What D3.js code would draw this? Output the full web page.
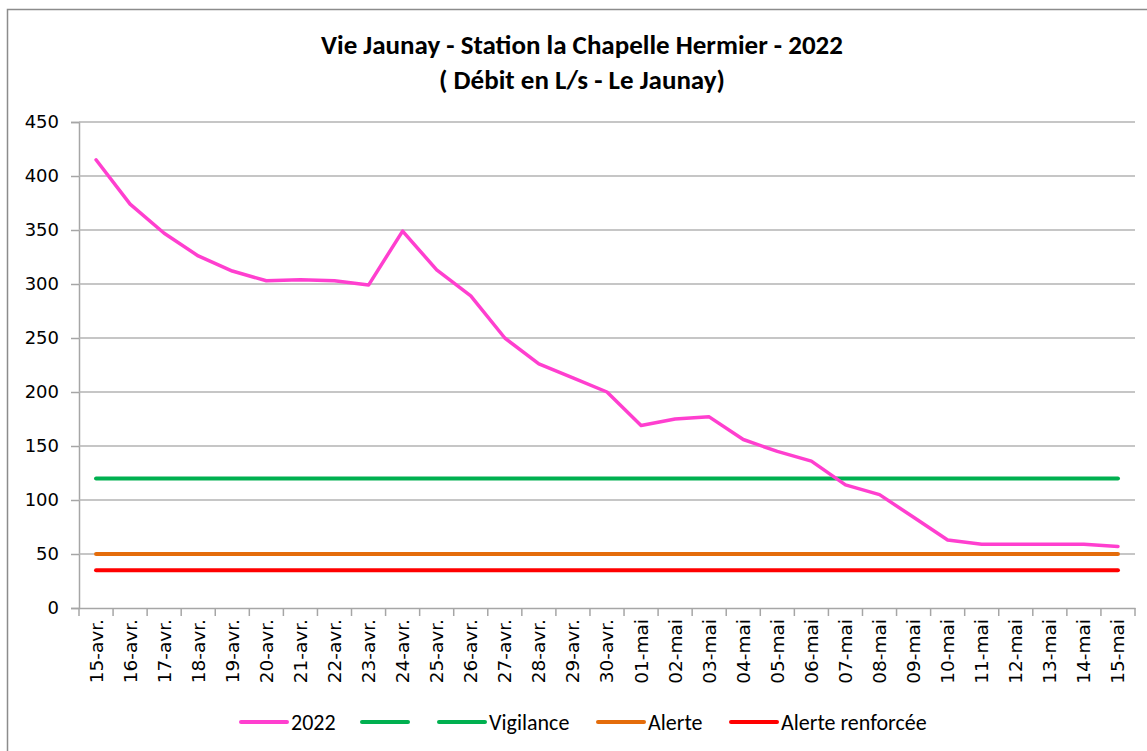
<!DOCTYPE html>
<html>
<head>
<meta charset="utf-8">
<script src="https://cdn.jsdelivr.net/npm/d3@7"></script>
<style>
  body { margin: 0; background: #fff; }
  svg { display: block; }
</style>
</head>
<body>
<div id="chart"></div>
<script>
// data
const dates = [
  '15-avr.', '16-avr.', '17-avr.', '18-avr.', '19-avr.', '20-avr.', '21-avr.', '22-avr.',
  '23-avr.', '24-avr.', '25-avr.', '26-avr.', '27-avr.', '28-avr.', '29-avr.', '30-avr.',
  '01-mai', '02-mai', '03-mai', '04-mai', '05-mai', '06-mai', '07-mai', '08-mai',
  '09-mai', '10-mai', '11-mai', '12-mai', '13-mai', '14-mai', '15-mai'
];
const debit2022 = [
  415, 374, 347, 326, 312, 303, 304, 303, 299, 349, 313, 289, 250, 226, 213, 200,
  169, 175, 177, 156, 145, 136, 114, 105, 84, 63, 59, 59, 59, 59, 57
];
const vigilance = dates.map(() => 120);
const alerte = dates.map(() => 50);
const alerteRenforcee = dates.map(() => 35);
const yTicks = [0, 50, 100, 150, 200, 250, 300, 350, 400, 450];

const W = 1147, H = 751;
const margin = { top: 122, right: 12, bottom: 143, left: 79 };
const width = W - margin.left - margin.right;
const height = H - margin.top - margin.bottom;

const svg = d3.select('#chart')
  .append('svg')
  .attr('width', W)
  .attr('height', H);

// outer frame
svg.append('rect')
  .attr('x', 7.5).attr('y', 9.5)
  .attr('width', 1160).attr('height', 760)
  .attr('fill', '#fff')
  .attr('stroke', '#8c8c8c')
  .attr('stroke-width', 1.5);

// title
const title = svg.append('text')
  .attr('text-anchor', 'middle')
  .attr('font-family', "Carlito, 'Liberation Sans Narrow', 'Liberation Sans', sans-serif")
  .attr('font-weight', 'bold')
  .attr('font-size', 27)
  .attr('fill', '#000');
title.append('tspan').attr('x', 582).attr('y', 54).text('Vie Jaunay - Station la Chapelle Hermier - 2022');
title.append('tspan').attr('x', 582).attr('y', 89).text('( Débit en L/s - Le Jaunay)');

const g = svg.append('g')
  .attr('transform', `translate(${margin.left},${margin.top})`);

const x = d3.scaleBand()
  .domain(dates)
  .range([0, width]);

const y = d3.scaleLinear()
  .domain([0, 450])
  .range([height, 0]);

// gridlines + y axis
const yAxis = g.append('g')
  .call(d3.axisLeft(y).tickValues(yTicks).tickSize(8).tickPadding(12).tickFormat(d3.format('d')));
yAxis.select('.domain').attr('stroke', '#a6a6a6').attr('stroke-width', 1.5);
yAxis.selectAll('.tick line').attr('stroke', '#a6a6a6').attr('stroke-width', 1.5);
yAxis.selectAll('.tick text')
  .attr('font-family', "'DejaVu Sans', Verdana, sans-serif")
  .attr('font-size', 18)
  .attr('fill', '#000');

g.append('g')
  .selectAll('line')
  .data(yTicks.filter(d => d > 0))
  .join('line')
  .attr('x1', 0).attr('x2', width)
  .attr('y1', d => y(d)).attr('y2', d => y(d))
  .attr('stroke', '#b3b3b3')
  .attr('stroke-width', 1.5);

// x axis
const xAxis = g.append('g')
  .attr('transform', `translate(0,${height})`)
  .call(d3.axisBottom(x).tickSize(0).tickSizeOuter(0));
xAxis.select('.domain').attr('stroke', '#a6a6a6').attr('stroke-width', 1.5);
xAxis.selectAll('.tick line').remove();
xAxis.selectAll('.tick text')
  .attr('font-family', "'DejaVu Sans', Verdana, sans-serif")
  .attr('font-size', 18.5)
  .attr('fill', '#000')
  .attr('text-anchor', 'end')
  .attr('dy', '0.35em')
  .attr('transform', 'translate(0,11) rotate(-90)')
  .attr('x', 0).attr('y', 0);

// category boundary ticks
g.append('g')
  .selectAll('line')
  .data(d3.range(dates.length + 1))
  .join('line')
  .attr('x1', i => i * x.step()).attr('x2', i => i * x.step())
  .attr('y1', height).attr('y2', height + 8)
  .attr('stroke', '#a6a6a6')
  .attr('stroke-width', 1.5);

const series = [
  { name: '2022', values: debit2022, color: '#ff3fcf', w: 3.5 },
  { name: 'Vigilance', values: vigilance, color: '#00b050', w: 4 },
  { name: 'Alerte', values: alerte, color: '#e46c0a', w: 4 },
  { name: 'Alerte renforcée', values: alerteRenforcee, color: '#ff0000', w: 4 }
];

const line = d3.line()
  .x((d, i) => x(dates[i]) + x.bandwidth() / 2)
  .y(d => y(d));

// thresholds first, then the 2022 curve on top
[series[3], series[2], series[1], series[0]].forEach(s => {
  g.append('path')
    .datum(s.values)
    .attr('fill', 'none')
    .attr('stroke', s.color)
    .attr('stroke-width', s.w)
    .attr('stroke-linejoin', 'round')
    .attr('stroke-linecap', 'round')
    .attr('d', line);
});

// legend (includes the unnamed green entry)
const legendItems = [
  { label: '2022', color: '#ff3fcf', x: 241 },
  { label: '', color: '#00b050', x: 362 },
  { label: 'Vigilance', color: '#00b050', x: 439 },
  { label: 'Alerte', color: '#e46c0a', x: 598 },
  { label: 'Alerte renforcée', color: '#ff0000', x: 731 }
];
const legend = svg.append('g').attr('transform', 'translate(0,722)');
const li = legend.selectAll('g').data(legendItems).join('g')
  .attr('transform', d => `translate(${d.x},0)`);
li.append('line')
  .attr('x1', 0).attr('x2', 46).attr('y1', 0).attr('y2', 0)
  .attr('stroke', d => d.color)
  .attr('stroke-width', 4)
  .attr('stroke-linecap', 'round');
li.append('text')
  .attr('x', 50).attr('y', 0).attr('dy', '0.35em')
  .attr('font-family', "Carlito, 'Liberation Sans Narrow', 'Liberation Sans', sans-serif")
  .attr('font-size', 22)
  .attr('fill', '#000')
  .text(d => d.label);
</script>
</body>
</html>
